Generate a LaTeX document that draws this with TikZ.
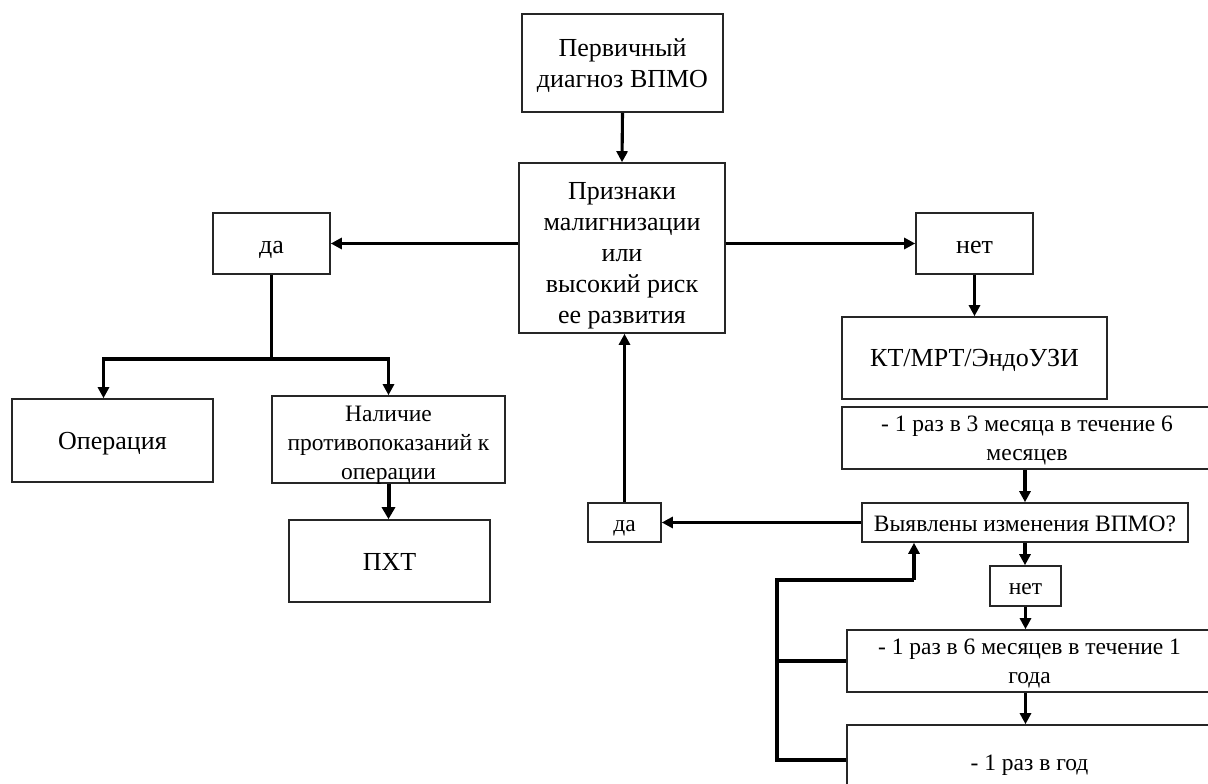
\documentclass[tikz,border=0pt]{standalone}
\usepackage{fontspec}
\setmainfont{Liberation Serif}
\usetikzlibrary{arrows.meta}
\newcommand{\mytab}[2][4pt]{\raisebox{-#1}[\height][\depth]{\begin{tabular}{@{}c@{}}#2\end{tabular}}}
\begin{document}
\begin{tikzpicture}[x=1pt,y=-1pt,
  box/.style={draw=black!85, line width=1.6pt, rectangle, inner sep=0pt, align=center},
  big/.style={font=\fontsize{26}{31}\selectfont},
  small/.style={font=\fontsize{23.5}{29}\selectfont},
  conn/.style={line width=3.1pt, black},
  arr/.style={conn, -{Triangle[length=11pt,width=11pt]}},
  heavy/.style={line width=4pt, black, -{Triangle[length=12pt,width=13pt]}}
]
\fill[white] (0,0) rectangle (1208,784);
\useasboundingbox (0,0) rectangle (1208,784);
\begin{scope}
\clip (0,0) rectangle (1208,784);
% nodes
\node[box,big,minimum width=201pt,minimum height=98pt] (b1) at (622.5,63) {\mytab[3pt]{Первичный\\диагноз ВПМО}};
\node[box,big,minimum width=206pt,minimum height=170pt] (b2) at (622,248) {\mytab[7pt]{Признаки\\малигнизации\\или\\высокий риск\\ее развития}};
\node[box,big,minimum width=117pt,minimum height=61pt] (da1) at (271.5,243.5) {\mytab{да}};
\node[box,big,minimum width=117pt,minimum height=61pt] (net1) at (974.5,243.5) {\mytab{нет}};
\node[box,big,minimum width=201pt,minimum height=83pt] (op) at (112.5,440.5) {\mytab[3pt]{Операция}};
\node[box,small,minimum width=233pt,minimum height=83pt] (nal) at (388.5,439.5) {\mytab[5pt]{Наличие\\противопоказаний к\\операции}};
\node[box,big,minimum width=201pt,minimum height=82pt] (pxt) at (389.5,561) {\mytab[3pt]{ПХТ}};
\node[box,big,minimum width=265pt,minimum height=82pt] (kt) at (974.5,358) {\mytab[2pt]{КТ/МРТ/ЭндоУЗИ}};
\node[box,small,minimum width=370pt,minimum height=62pt] (m3) at (1027,438) {\mytab[2pt]{- 1 раз в 3 месяца в течение 6\\месяцев}};
\node[box,small,minimum width=326pt,minimum height=39pt] (vyy) at (1025,522.5) {\mytab[3pt]{Выявлены изменения ВПМО?}};
\node[box,small,minimum width=73pt,minimum height=39pt] (da2) at (624.5,522.5) {\mytab[3pt]{да}};
\node[box,small,minimum width=71pt,minimum height=40pt] (net2) at (1025.5,586) {\mytab[3pt]{нет}};
\node[box,small,minimum width=365pt,minimum height=62pt] (m6) at (1029.5,661) {\mytab[2pt]{- 1 раз в 6 месяцев в течение 1\\года}};
\node[box,small,minimum width=365pt,minimum height=75pt] (m12) at (1029.5,762.5) {\mytab[2pt]{- 1 раз в год}};
% helper coordinates
\coordinate (split) at (271.5,359);
\coordinate (fbB) at (777,760);
\coordinate (fbT) at (777,580);
\coordinate (fbA) at (914,580);
% connectors
\draw[arr] (b1.south) -- (b2.north);
\draw[arr] (b2.west |- da1.east) -- (da1.east);
\draw[arr] (b2.east |- net1.west) -- (net1.west);
\draw[conn] (da1.south) -- (split);
\draw[arr] (split) -| ([xshift=-9pt]op.north);
\draw[arr] (split) -| (nal.north);
\draw[heavy] (nal.south) -- (pxt.north -| nal.south);
\draw[arr] (net1.south) -- (kt.north);
\draw[arr] (m3.south -| vyy.north) -- (vyy.north);
\draw[arr] (vyy.west) -- (da2.east);
\draw[arr] (da2.north) -- (da2.north |- b2.south);
\draw[arr] (vyy.south) -- (vyy.south |- net2.north);
\draw[arr] (net2.south) -- (net2.south |- m6.north);
\draw[arr] (m6.south -| net2.south) -- (m12.north -| net2.south);
\draw[conn] (m6.west) -- (m6.west -| fbB);
\draw[conn, line join=miter] (m12.west |- fbB) -- (fbB) -- (fbT) -- (fbA);
\draw[arr] (fbA) -- (fbA |- vyy.south);
\end{scope}
\end{tikzpicture}
\end{document}
